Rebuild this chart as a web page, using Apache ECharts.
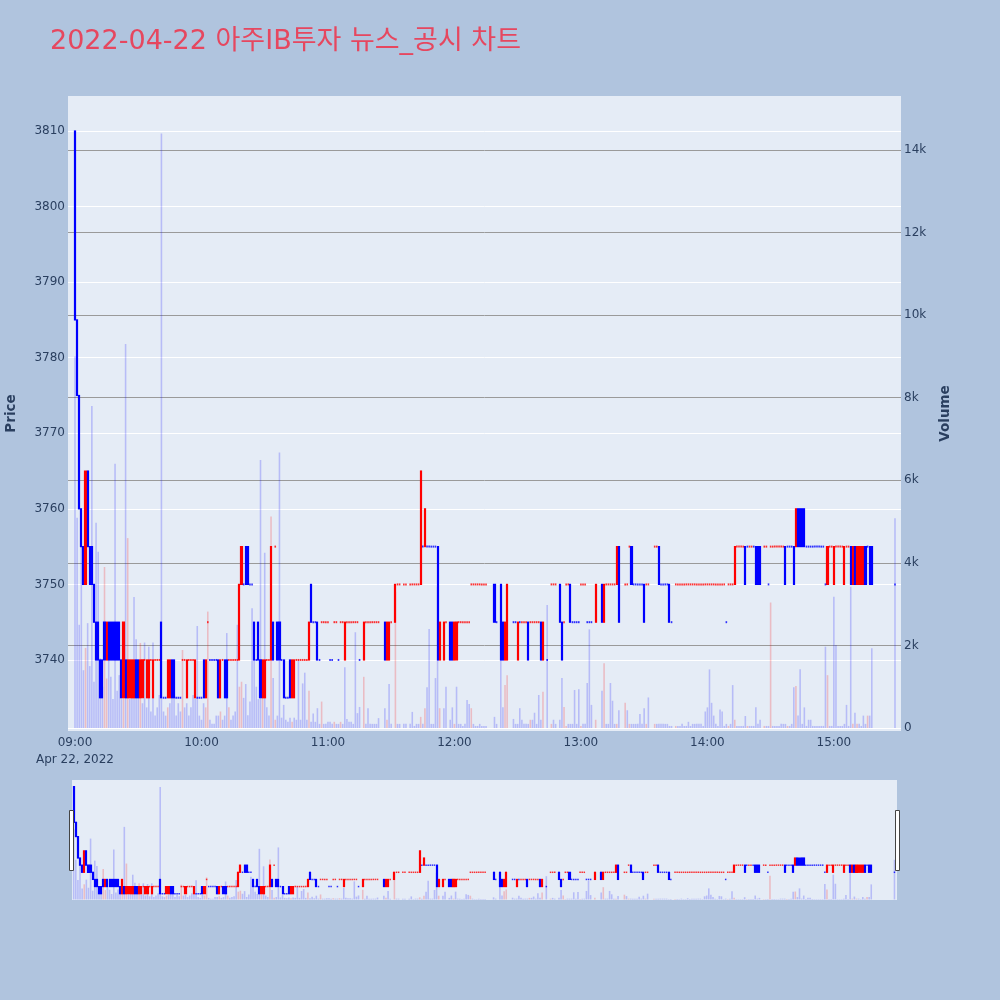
<!DOCTYPE html>
<html><head><meta charset="utf-8">
<script src="https://cdn.jsdelivr.net/npm/echarts@6.0.0/dist/echarts.min.js"></script>
<style>html,body{margin:0;padding:0;background:#b0c4de}#c{width:1000px;height:1000px}</style>
</head><body><div id="c"></div>
<script>
// minutes after 09:00
const minutes = [
0,1,2,3,4,5,6,7,8,9,
10,11,12,13,14,15,16,17,18,19,
20,21,22,23,24,25,26,27,28,29,
30,31,32,33,34,35,36,37,38,39,
40,41,42,43,44,45,46,47,48,49,
50,51,52,53,54,55,56,57,58,59,
60,61,62,63,64,65,66,67,68,69,
70,71,72,73,74,75,76,77,78,79,
80,81,82,83,84,85,86,87,88,89,
90,91,92,93,94,95,96,97,98,99,
100,101,102,103,104,105,106,107,108,109,
110,111,112,113,114,115,116,117,118,119,
120,121,122,123,124,125,126,127,128,129,
130,131,132,133,134,135,
137,138,139,140,141,142,143,144,
147,148,149,150,
152,153,154,156,157,
159,160,161,162,163,164,165,166,167,168,169,170,171,172,173,
175,176,
178,179,180,181,182,183,184,185,186,187,188,189,190,191,192,193,194,195,
199,200,
202,203,204,205,
208,209,210,211,212,213,214,215,216,217,218,219,220,221,222,
224,
226,227,228,
230,231,232,233,234,235,236,237,238,239,240,241,242,243,244,245,
247,
250,251,252,253,254,255,256,257,258,
261,262,263,264,265,266,267,268,269,270,271,272,
275,276,277,278,279,280,281,282,283,
285,286,287,288,289,290,291,292,293,294,
295,296,297,298,299,300,301,302,303,304,
305,306,307,308,309,310,311,312,313,314,
315,316,317,318,319,320,321,322,323,324,
325,
327,328,329,330,331,332,333,334,335,336,
337,338,339,340,341,342,343,344,345,346,
347,348,349,350,351,352,353,354,355,356,
357,358,359,360,361,362,363,364,365,366,
367,368,369,370,371,372,373,374,375,376,
377,378,
389
];
const opens = [
3810,3785,3775,3760,3755,3750,3765,3755,3755,3750,
3745,3745,3740,3740,3745,3740,3745,3745,3745,3745,
3745,3745,3740,3735,3740,3735,3735,3735,3735,3740,
3740,3735,3735,3740,3735,3735,3740,3735,3740,3740,
3740,3745,3735,3735,3735,3735,3740,3740,3735,3735,
3735,3740,3740,3735,3740,3740,3740,3735,3735,3735,
3735,3740,3735,3745,3740,3740,3740,3740,3740,3735,
3740,3740,3740,3740,3740,3740,3740,3740,3740,3750,
3750,3755,3755,3750,3750,3745,3740,3745,3740,3735,
3735,3740,3740,3740,3745,3755,3745,3745,3740,3740,
3735,3735,3740,3735,3735,3740,3740,3740,3740,3740,
3740,3740,3750,3745,3745,3745,3740,3745,3745,3745,
3745,3740,3740,3745,3745,3740,3745,3745,3740,3745,
3745,3745,3745,3745,3745,3740,
3740,3745,3745,3745,3745,3745,3745,3745,
3745,3740,3740,3745,
3745,3750,3750,3750,3750,
3750,3750,3750,3750,3750,3750,3755,3755,3755,3755,3755,3755,3755,3755,3740,
3740,3745,
3745,3745,3740,3740,3745,3745,3745,3745,3745,3745,3750,3750,3750,3750,3750,3750,3750,3750,
3750,3745,
3750,3745,3740,3740,
3745,3745,3740,3745,3745,3745,3745,3745,3745,3745,3745,3745,3745,3745,3740,
3740,
3750,3750,3750,
3750,3745,3745,3750,3750,3750,3745,3745,3745,3745,3750,3750,3750,3745,3745,3745,
3745,
3750,3745,3750,3750,3750,3750,3750,3750,3755,
3750,3750,3755,3755,3750,3750,3750,3750,3750,3750,3750,3750,
3755,3755,3755,3750,3750,3750,3750,3750,3745,
3750,3750,3750,3750,3750,3750,3750,3750,3750,3750,
3750,3750,3750,3750,3750,3750,3750,3750,3750,3750,
3750,3750,3750,3750,3745,3750,3750,3750,3750,3755,
3755,3755,3755,3755,3755,3755,3755,3755,3755,3755,
3755,
3755,3755,3750,3755,3755,3755,3755,3755,3755,3755,
3755,3755,3755,3755,3755,3755,3760,3760,3760,3760,
3755,3755,3755,3755,3755,3755,3755,3755,3755,3750,
3750,3755,3755,3750,3755,3755,3755,3755,3750,3755,
3755,3755,3750,3755,3750,3750,3750,3750,3755,3755,
3755,3755,
3750
];
const closes = [
3785,3775,3760,3755,3750,3765,3755,3750,3750,3745,
3740,3740,3735,3735,3740,3745,3740,3740,3740,3740,
3740,3740,3735,3745,3735,3740,3740,3740,3740,3735,
3735,3740,3740,3740,3740,3740,3740,3740,3740,3740,
3740,3735,3735,3735,3740,3740,3735,3735,3735,3735,
3735,3740,3740,3740,3740,3740,3740,3740,3735,3735,
3735,3735,3740,3745,3740,3740,3740,3740,3735,3740,
3740,3735,3735,3740,3740,3740,3740,3740,3750,3755,
3750,3750,3750,3750,3750,3740,3740,3740,3735,3740,
3740,3740,3740,3755,3740,3755,3740,3740,3740,3735,
3735,3735,3735,3740,3740,3740,3740,3740,3740,3740,
3740,3745,3745,3745,3745,3740,3740,3745,3745,3745,
3745,3740,3740,3745,3745,3740,3745,3745,3745,3745,
3745,3745,3745,3745,3745,3740,
3745,3745,3745,3745,3745,3745,3745,3745,
3740,3745,3745,3745,
3750,3750,3750,3750,3750,
3750,3750,3750,3750,3750,3765,3755,3760,3755,3755,3755,3755,3755,3740,3745,
3745,3745,
3740,3740,3745,3745,3745,3745,3745,3745,3745,3745,3750,3750,3750,3750,3750,3750,3750,3750,
3745,3745,
3740,3740,3745,3750,
3745,3745,3745,3745,3745,3745,3745,3740,3745,3745,3745,3745,3745,3740,3745,
3740,
3750,3750,3750,
3745,3740,3745,3750,3750,3745,3745,3745,3745,3745,3750,3750,3750,3745,3745,3745,
3750,
3745,3750,3750,3750,3750,3750,3750,3755,3745,
3750,3750,3755,3750,3750,3750,3750,3750,3750,3745,3750,3750,
3755,3755,3750,3750,3750,3750,3750,3745,3745,
3750,3750,3750,3750,3750,3750,3750,3750,3750,3750,
3750,3750,3750,3750,3750,3750,3750,3750,3750,3750,
3750,3750,3750,3750,3745,3750,3750,3750,3755,3755,
3755,3755,3755,3750,3755,3755,3755,3755,3750,3750,
3750,
3755,3755,3750,3755,3755,3755,3755,3755,3755,3755,
3750,3755,3755,3755,3750,3760,3755,3755,3755,3755,
3755,3755,3755,3755,3755,3755,3755,3755,3755,3750,
3755,3755,3755,3755,3755,3755,3755,3755,3755,3755,
3755,3750,3755,3750,3755,3755,3755,3755,3750,3755,
3750,3750,
3750
];
const volumes = [
9000,5090,2500,4390,1400,1940,2540,1500,7800,1120,
4970,4270,1690,1000,3900,1200,1690,1240,700,6400,
900,1280,700,800,9300,4600,700,1000,3170,2150,
900,2060,600,2070,500,1970,400,2070,300,500,
800,14400,400,300,500,600,900,1200,300,600,
400,1890,500,600,300,500,800,700,2470,300,
200,600,500,2820,200,100,100,300,300,400,
200,300,2300,500,200,300,400,2500,1000,1120,
730,1065,310,640,2900,1690,1000,700,6490,800,
4245,500,300,5120,1210,200,300,6670,250,560,
200,150,250,150,250,200,1650,200,1080,1340,
200,900,150,350,150,480,100,640,100,100,
150,150,100,150,100,100,150,100,1470,220,
150,150,100,2320,360,510,
1240,100,480,100,100,100,100,240,
480,200,1065,100,
3300,100,100,100,100,
100,390,50,100,100,270,100,480,990,2400,100,100,1210,3420,480,
480,1000,
200,500,100,1000,100,100,50,100,680,580,480,100,50,50,100,50,50,50,
270,100,
1670,500,1040,1280,
220,100,100,480,200,100,100,100,200,200,370,100,800,200,880,
2980,
100,200,100,
200,1210,510,50,100,100,100,920,100,940,50,100,100,1090,2390,560,
200,
900,1570,100,100,1090,660,100,100,430,
610,430,100,100,100,100,100,340,100,480,100,740,
100,100,100,100,100,100,100,50,50,
50,50,50,100,50,50,150,50,100,100,
100,100,100,50,400,500,1420,610,300,100,
50,450,400,50,100,50,100,1040,200,50,
50,50,50,290,50,50,50,50,500,100,
200,
50,50,50,3040,50,50,50,50,100,100,
100,50,50,100,985,1015,300,1420,100,500,
50,200,200,50,50,50,50,50,50,1970,
1280,50,50,3180,2010,50,50,50,100,560,
50,3420,100,370,100,100,50,300,100,300,
300,1930,
5080
];
// candle colour: 1 = red, -1 = blue
const dirs = [
-1,-1,-1,-1,-1,1,-1,-1,-1,-1,
-1,-1,-1,-1,-1,1,-1,-1,-1,-1,
-1,-1,-1,1,-1,1,1,1,1,-1,
-1,1,1,1,1,1,1,1,1,1,
1,-1,-1,-1,1,1,-1,-1,-1,-1,
-1,1,1,1,1,1,1,1,-1,-1,
-1,-1,1,1,-1,-1,-1,-1,-1,1,
1,-1,-1,1,1,1,1,1,1,1,
-1,-1,-1,-1,-1,-1,-1,-1,-1,1,
1,1,1,1,-1,1,-1,-1,-1,-1,
-1,-1,-1,1,1,1,1,1,1,1,
1,1,-1,-1,-1,-1,-1,1,1,1,
1,-1,-1,1,1,-1,1,1,1,1,
1,1,1,1,1,-1,
1,1,1,1,1,1,1,1,
-1,1,1,1,
1,1,1,1,1,
1,1,1,1,1,1,-1,1,-1,-1,-1,-1,-1,-1,1,
1,1,
-1,-1,1,1,1,1,1,1,1,1,1,1,1,1,1,1,1,1,
-1,-1,
-1,-1,1,1,
-1,-1,1,-1,1,1,1,-1,1,1,1,1,1,-1,1,
-1,
1,1,1,
-1,-1,1,1,1,-1,-1,-1,-1,-1,1,1,1,-1,-1,-1,
1,
-1,1,1,1,1,1,1,1,-1,
1,1,1,-1,-1,-1,-1,-1,-1,-1,1,1,
1,1,-1,-1,-1,-1,-1,-1,-1,
1,1,1,1,1,1,1,1,1,1,
1,1,1,1,1,1,1,1,1,1,
1,1,1,1,-1,1,1,1,1,1,
1,1,1,-1,-1,1,1,-1,-1,-1,
-1,
1,1,-1,1,1,1,1,1,1,1,
-1,-1,-1,-1,-1,1,-1,-1,-1,-1,
-1,-1,-1,-1,-1,-1,-1,-1,-1,-1,
1,1,1,1,1,1,1,1,1,1,
1,-1,1,-1,1,1,1,1,-1,-1,
-1,-1,
-1
];
const priceTicks = [3740,3750,3760,3770,3780,3790,3800,3810];
const volumeTicks = [0,2000,4000,6000,8000,10000,12000,14000];
const volumeLabels = ['0','2k','4k','6k','8k','10k','12k','14k'];
const timeTicks = [0,60,120,180,240,300,360];
const timeLabels = ['09:00','10:00','11:00','12:00','13:00','14:00','15:00'];
const dateLabel = 'Apr 22, 2022';
const titleText = '2022-04-22 아주IB투자 뉴스_공시 차트';

const UP = '#ff0000', DOWN = '#0000ff';
const UPV = 'rgba(255,0,0,0.2)', DOWNV = 'rgba(0,0,255,0.2)';
const FONT = '"DejaVu Sans", "Noto Sans CJK KR", sans-serif';
const TXT = '#2a3f5f';

const candleData = [], flatData = [];
minutes.forEach((t, i) => {
  const c = dirs[i] > 0 ? UP : DOWN;
  const o = opens[i], cl = closes[i];
  if (o === cl) {
    flatData.push({ value: [t, o], itemStyle: { color: c } });
  } else {
    candleData.push({ value: [t, o, cl, Math.min(o, cl), Math.max(o, cl)],
      itemStyle: { color: c, color0: c, borderColor: c, borderColor0: c } });
  }
});
// volume bar is red when the close rose above the previous close
const volData = minutes.map((t, i) => {
  const up = i > 0 && closes[i] > closes[i - 1];
  return { value: [t, volumes[i]], itemStyle: { color: up ? UPV : DOWNV } };
});

function priceSeries(xi, yi, yv, small) {
  return [
    { type: 'bar', xAxisIndex: xi, yAxisIndex: yv, data: volData, barWidth: 1.6, z: 2, silent: true },
    { type: 'candlestick', xAxisIndex: xi, yAxisIndex: yi, data: candleData, barWidth: 1.6,
      dimensions: ['t', 'open', 'close', 'low', 'high'],
      encode: { x: 't', y: ['open', 'close', 'low', 'high'] },
      itemStyle: { borderWidth: 1.2 }, z: 3, silent: true },
    { type: 'scatter', xAxisIndex: xi, yAxisIndex: yi, data: flatData, symbol: 'rect',
      symbolSize: small ? [1.5, 1.5] : [1.6, 2], z: 3, silent: true }
  ];
}

const chart = echarts.init(document.getElementById('c'), null, { width: 1000, height: 1000 });
chart.setOption({
  animation: false,
  backgroundColor: '#b0c4de',
  title: { text: titleText, left: 50, top: 28, padding: 0,
    textStyle: { fontFamily: FONT, fontSize: 27, fontWeight: 'normal', color: '#e6475f' } },
  grid: [
    { left: 68, right: 99, top: 96, bottom: 269, show: true, backgroundColor: '#e5ecf6', borderWidth: 0, containLabel: false, outerBoundsMode: 'none' },
    { left: 72, right: 103, top: 780, height: 120, show: true, backgroundColor: '#e5ecf6', borderWidth: 0, containLabel: false, outerBoundsMode: 'none' }
  ],
  xAxis: [
    { type: 'value', gridIndex: 0, min: -3.32, max: 391.85,
      axisLine: { show: false }, splitLine: { show: false },
      axisTick: { show: false, customValues: timeTicks },
      axisLabel: { customValues: timeTicks, color: TXT, fontSize: 12, fontFamily: FONT, margin: 3, lineHeight: 17,
        formatter: (v) => { const k = timeTicks.indexOf(v); const s = timeLabels[k]; return k === 0 ? s + '\n' + dateLabel : s; } } },
    { type: 'value', gridIndex: 1, min: -0.8, max: 390.2, show: false }
  ],
  yAxis: [
    { type: 'value', gridIndex: 0, position: 'left', min: 3730.6, max: 3814.63,
      axisLine: { show: false },
      axisTick: { show: false, customValues: priceTicks },
      axisLabel: { customValues: priceTicks, color: TXT, fontSize: 12, fontFamily: FONT, margin: 3, formatter: (v) => String(v) },
      splitLine: { show: true, lineStyle: { color: '#ffffff', width: 1 } },
      name: 'Price', nameLocation: 'middle', nameGap: 50, nameRotate: 90,
      nameTextStyle: { color: TXT, fontSize: 13.5, fontWeight: 'bold', fontFamily: FONT } },
    { type: 'value', gridIndex: 0, position: 'right', min: -72.7, max: 15308,
      axisLine: { show: false },
      axisTick: { show: false, customValues: volumeTicks },
      axisLabel: { customValues: volumeTicks, color: TXT, fontSize: 12, fontFamily: FONT, margin: 3,
        formatter: (v) => volumeLabels[volumeTicks.indexOf(v)] },
      splitLine: { show: true, lineStyle: { color: ['#ffffff', '#9a9a9a', '#9a9a9a', '#9a9a9a', '#9a9a9a', '#9a9a9a', '#9a9a9a', '#9a9a9a'], width: 1 } },
      name: 'Volume', nameLocation: 'middle', nameGap: 38, nameRotate: 90,
      nameTextStyle: { color: TXT, fontSize: 13.5, fontWeight: 'bold', fontFamily: FONT } },
    { type: 'value', gridIndex: 1, min: 3730.6, max: 3814.63, show: false, splitLine: { show: false } },
    { type: 'value', gridIndex: 1, min: -72.7, max: 15308, show: false, splitLine: { show: false } }
  ],
  series: [].concat(priceSeries(0, 0, 1, false), priceSeries(1, 2, 3, true)),
  graphic: [
    { type: 'rect', shape: { x: 69.5, y: 810.5, width: 4, height: 60 }, style: { fill: '#ffffff', stroke: '#444444', lineWidth: 1 }, z: 10 },
    { type: 'rect', shape: { x: 895.5, y: 810.5, width: 4, height: 60 }, style: { fill: '#ffffff', stroke: '#444444', lineWidth: 1 }, z: 10 }
  ]
});
</script>
</body></html>
